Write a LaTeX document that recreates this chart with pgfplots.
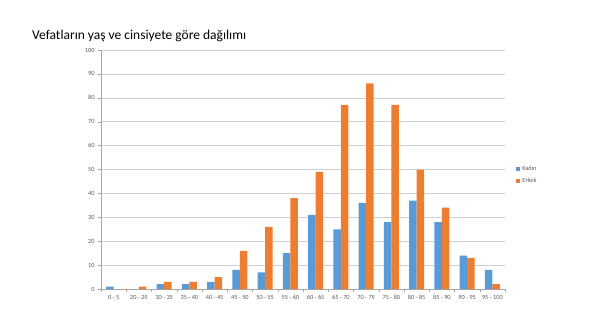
\documentclass[border=0pt]{standalone}
\usepackage{fontspec}
\setmainfont{Carlito}
\usepackage{pgfplots}
\pgfplotsset{compat=1.18}
\definecolor{kblue}{HTML}{5B9BD5}
\definecolor{korange}{HTML}{ED7D31}
\definecolor{gridc}{HTML}{D0D0D0}
\definecolor{txtc}{HTML}{595959}
\begin{document}
\begin{tikzpicture}[x=1pt,y=1pt]
\useasboundingbox (0,0) rectangle (616,333);
\node[anchor=base west,font=\fontsize{13.5}{15}\selectfont,text=black,inner sep=0pt] at (32,294) {Vefatların yaş ve cinsiyete göre dağılımı};
\begin{axis}[
  at={(101pt,44pt)}, anchor=south west,
  scale only axis, width=404pt, height=239pt,
  ybar=0pt, bar width=7.6pt,
  xmin=-0.5, xmax=15.5, ymin=0, ymax=100,
  ytick={0,10,...,100},
  xtick={0,...,15},
  xticklabels={0 - 5,20 - 25,30 - 35,35 - 40,40 - 45,45 - 50,50 - 55,55 - 60,60 - 65,65 - 70,70 - 75,75 - 80,80 - 85,85 - 90,90 - 95,95 - 100},
  minor xtick={-0.5,0.5,...,15.5},
  xtick style={draw=none},
  minor tick length=3pt,
  minor x tick style={draw=gridc!80!black, thin},
  ytick style={draw=gridc!80!black, thin},
  major tick length=3pt,
  tick align=outside,
  ymajorgrids, grid style={gridc, line width=0.6pt},
  axis x line*=bottom, axis y line*=left,
  axis line style={draw=gridc!80!black, line width=0.6pt},
  x axis line style={-}, y axis line style={-},
  tick label style={font=\fontsize{6.3}{7}\selectfont, text=txtc},
  /pgf/number format/assume math mode=true,
  legend style={at={(1.02,0.477)}, anchor=west, draw=none, fill=none, font=\fontsize{6.3}{7}\selectfont, text=txtc, row sep=2pt},
  legend image code/.code={\fill[#1] (0pt,-2pt) rectangle (4pt,2pt);},
]
\addplot[fill=kblue, draw=none] coordinates {(0,1) (1,0) (2,2) (3,2) (4,3) (5,8) (6,7) (7,15) (8,31) (9,25) (10,36) (11,28) (12,37) (13,28) (14,14) (15,8)};
\addplot[fill=korange, draw=none] coordinates {(0,0) (1,1) (2,3) (3,3) (4,5) (5,16) (6,26) (7,38) (8,49) (9,77) (10,86) (11,77) (12,50) (13,34) (14,13) (15,2)};
\legend{Kadın,Erkek}
\end{axis}
\end{tikzpicture}
\end{document}
